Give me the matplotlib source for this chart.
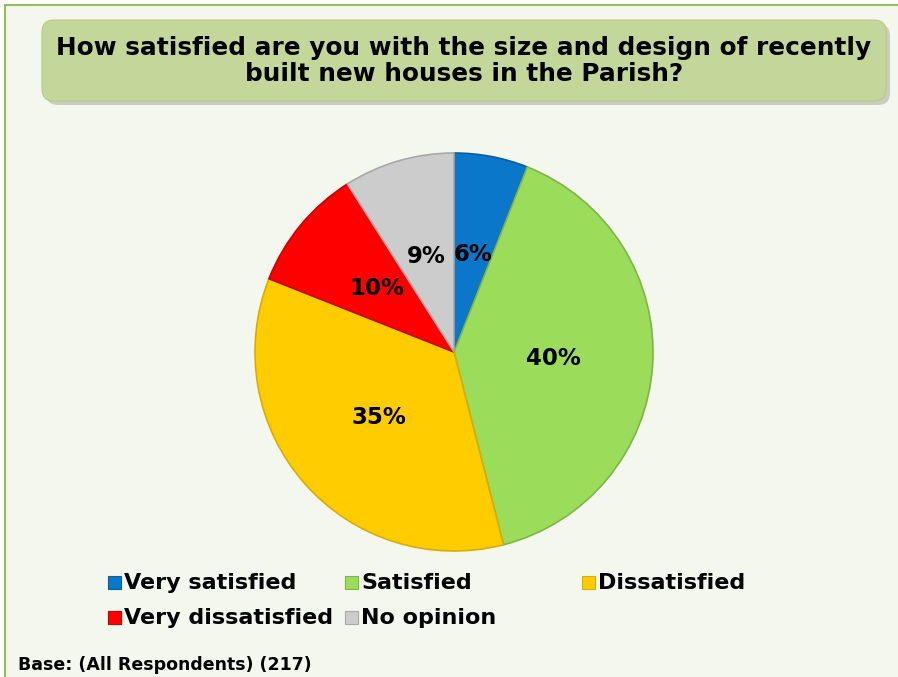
import matplotlib
matplotlib.use("Agg")
from matplotlib import pyplot as plt
from matplotlib.patches import FancyBboxPatch, Rectangle

# data
categories = ["Very satisfied", "Satisfied", "Dissatisfied", "Very dissatisfied", "No opinion"]
percentages = [6, 40, 35, 10, 9]
colors = ["#0A77CA", "#9BDC5A", "#FFCC00", "#FF0000", "#CCCCCC"]
edge_colors = ["#08609F", "#7DB548", "#D9AE00", "#CC0000", "#A8A8A8"]
title = "How satisfied are you with the size and design of recently\nbuilt new houses in the Parish?"
base_note = "Base: (All Respondents) (217)"

W, H = 898, 677
fig = plt.figure(figsize=(W / 100, H / 100), dpi=100)
fig.patch.set_facecolor("white")

# background layer in pixel coordinates
bg = fig.add_axes([0, 0, 1, 1])
bg.set_xlim(0, W)
bg.set_ylim(H, 0)
bg.set_axis_off()
bg.add_patch(Rectangle((5, 5), W + 10, H + 10, facecolor="#F4F7EE", edgecolor="#9BBB59", linewidth=1.5))

# title box with soft shadow
bg.add_patch(FancyBboxPatch((46, 24), 844, 81, boxstyle="round,pad=0,rounding_size=12",
                            facecolor="#B0B0A8", edgecolor="none", alpha=0.6))
bg.add_patch(FancyBboxPatch((42, 20), 844, 81, boxstyle="round,pad=0,rounding_size=12",
                            facecolor="#C4D79B", edgecolor="#B5CA8A", linewidth=0.8))
bg.text(464, 61, title, ha="center", va="center", fontsize=17.8, fontweight="bold",
        linespacing=1.15, color="black")

# legend drawn manually in a 3-column grid
leg_x = [108, 345, 582]
leg_y = [583, 618]
for i, (cat, col, ec) in enumerate(zip(categories, colors, edge_colors)):
    x = leg_x[i % 3]
    y = leg_y[i // 3]
    bg.add_patch(Rectangle((x, y - 7), 13, 13, facecolor=col, edgecolor=ec, linewidth=0.8))
    bg.text(x + 16, y, cat, ha="left", va="center", fontsize=16, fontweight="bold", color="black")

bg.text(18, 665, base_note, ha="left", va="center", fontsize=12.5, fontweight="bold", color="black")

# pie
cx, cy, r = 454, 352, 201
ax = fig.add_axes([(cx - r) / W, (H - cy - r) / H, 2 * r / W, 2 * r / H])
wedges, texts = ax.pie(percentages, colors=colors, startangle=90, counterclock=False,
                       labels=[f"{p}%" for p in percentages], labeldistance=0.5,
                       wedgeprops=dict(linewidth=1.2))
for w, ec in zip(wedges, edge_colors):
    w.set_edgecolor(ec)
for t in texts:
    t.set_ha("center")
    t.set_va("center")
    t.set_fontsize(16.5)
    t.set_fontweight("bold")
ax.set_xlim(-1.01, 1.01)
ax.set_ylim(-1.01, 1.01)
ax.set_aspect("equal")
ax.set_axis_off()

plt.savefig("out.png", dpi=100)
